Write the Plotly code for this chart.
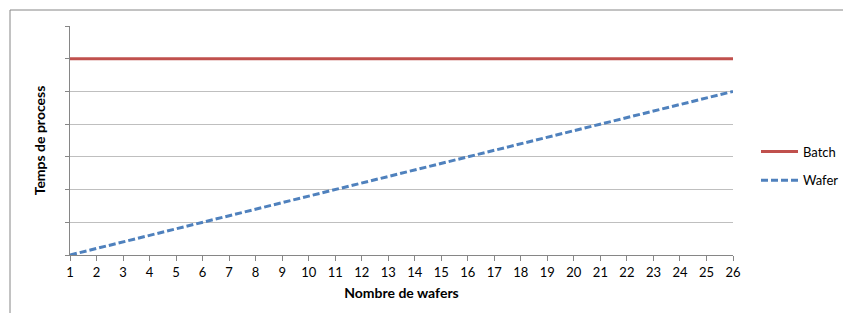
import plotly.graph_objects as go

wafers = list(range(1, 27))
batch = [6] * 26
wafer = [0.0, 0.2, 0.4, 0.6, 0.8, 1.0, 1.2, 1.4, 1.6, 1.8, 2.0, 2.2, 2.4,
         2.6, 2.8, 3.0, 3.2, 3.4, 3.6, 3.8, 4.0, 4.2, 4.4, 4.6, 4.8, 5.0]

FONT = "Lato, 'Noto Sans', sans-serif"

fig = go.Figure()
fig.add_trace(go.Scatter(x=wafers, y=batch, mode="lines", name="Batch",
                         legendgroup="a",
                         line=dict(color="#C0504D", width=3)))
fig.add_trace(go.Scatter(x=wafers, y=wafer, mode="lines", name="Wafer",
                         legendgroup="b",
                         line=dict(color="#4F81BD", width=3, dash="7px,3px")))

W, H = 843, 313
L, R, T, B = 70, 733, 26, 255
px = lambda p: (p - L) / (R - L)
py = lambda p: (B - p) / (B - T)

fig.update_layout(
    width=W, height=H,
    margin=dict(l=L, r=W - R, t=T, b=H - B, autoexpand=False),
    paper_bgcolor="white", plot_bgcolor="white",
    font=dict(family=FONT, size=13, color="#000000"),
    showlegend=True,
    legend=dict(x=px(756), y=py(166), xanchor="left", yanchor="middle",
                traceorder="grouped", tracegroupgap=9, itemwidth=37,
                font=dict(family=FONT, size=13), bgcolor="rgba(0,0,0,0)"),
    xaxis=dict(range=[1, 26], tickmode="linear", tick0=1, dtick=1,
               showgrid=False, zeroline=False,
               showline=True, linecolor="#868686", linewidth=1,
               ticks="outside", ticklen=5, tickcolor="#868686",
               tickfont=dict(family=FONT, size=13),
               title=dict(text="<b>Nombre de wafers</b>", standoff=9,
                          font=dict(family=FONT, size=14))),
    yaxis=dict(range=[0, 7], tickmode="linear", tick0=0, dtick=1,
               showticklabels=False,
               showgrid=True, gridcolor="#BFBFBF", gridwidth=1,
               zeroline=False,
               showline=True, linecolor="#868686", linewidth=1,
               ticks="outside", ticklen=4, tickcolor="#868686",
               title=dict(text="<b>Temps de process</b>", standoff=16,
                          font=dict(family=FONT, size=14))),
    shapes=[
        dict(type="line", xref="paper", yref="paper",
             x0=px(10), x1=px(900), y0=py(10), y1=py(10),
             line=dict(color="#868686", width=1)),
        dict(type="line", xref="paper", yref="paper",
             x0=px(10), x1=px(10), y0=py(400), y1=py(10),
             line=dict(color="#868686", width=1)),
    ],
)

fig.write_html("out.html",
               config={"displayModeBar": False},
               post_script="document.body.style.margin='0';"
                           "document.body.style.overflow='hidden';")
